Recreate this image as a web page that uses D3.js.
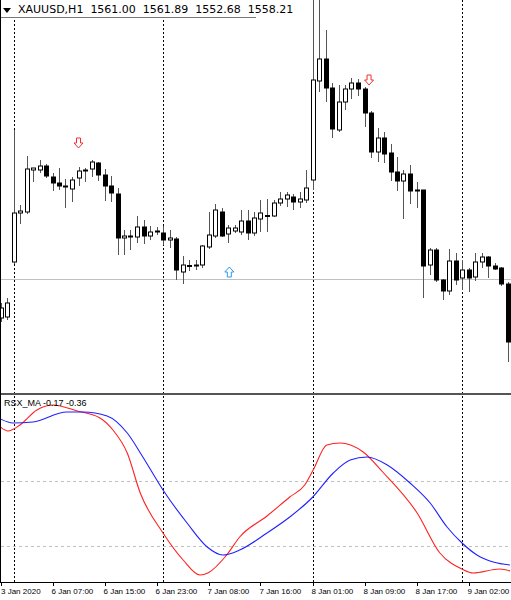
<!DOCTYPE html>
<html><head><meta charset="utf-8">
<script src="https://cdn.jsdelivr.net/npm/d3@7"></script>
<style>body{margin:0;background:#fff}svg{display:block}</style>
</head><body><svg id="c" width="511" height="600"></svg>
<script>
const open=[1546.4,1546.6,1557.6,1567.4,1567.6,1576.0,1576.0,1576.8,1574.6,1573.4,1572.8,1572.2,1574.4,1575.8,1576.2,1577.4,1575.0,1572.8,1571.2,1562.4,1562.6,1562.6,1564.6,1562.8,1563.6,1563.4,1562.0,1562.2,1555.6,1556.8,1556.8,1557.0,1560.6,1562.8,1567.6,1563.2,1563.8,1563.6,1565.8,1563.4,1566.2,1566.8,1566.8,1569.4,1570.2,1570.6,1569.6,1570.0,1574.0,1593.8,1598.2,1592.4,1584.0,1589.6,1592.2,1593.4,1592.2,1587.4,1579.6,1582.4,1579.4,1575.6,1573.8,1575.2,1572.0,1572.0,1557.0,1560.0,1554.0,1551.8,1557.8,1554.4,1556.0,1554.6,1557.6,1558.6,1556.8,1556.4,1553.2];
const high=[1549.4,1550.4,1584.0,1569.0,1578.8,1576.4,1578.0,1577.2,1575.4,1576.4,1574.2,1574.6,1576.6,1576.4,1578.0,1577.6,1576.2,1574.8,1572.4,1564.0,1564.0,1566.8,1566.0,1564.8,1564.6,1564.8,1564.0,1562.6,1558.8,1558.0,1558.0,1561.0,1567.6,1569.2,1568.4,1565.0,1565.0,1568.0,1568.0,1567.6,1570.0,1570.2,1570.0,1571.6,1571.6,1571.2,1571.6,1576.0,1614.0,1612.0,1604.0,1593.4,1593.0,1593.0,1594.4,1594.2,1592.6,1587.8,1584.4,1583.6,1581.2,1578.6,1576.0,1577.0,1573.6,1572.0,1560.4,1560.4,1554.2,1560.2,1559.4,1558.0,1556.4,1559.4,1559.4,1558.8,1557.4,1556.6,1553.6];
const low=[1545.6,1546.0,1557.2,1565.2,1567.2,1573.6,1575.4,1574.4,1571.8,1572.0,1568.4,1569.6,1572.8,1573.6,1574.6,1573.8,1569.8,1569.6,1559.0,1559.0,1560.0,1561.4,1561.2,1562.0,1563.0,1561.0,1560.4,1554.0,1553.2,1555.8,1556.0,1556.4,1560.2,1562.4,1562.6,1561.4,1563.4,1563.0,1562.0,1562.8,1563.6,1563.6,1566.6,1568.8,1568.6,1568.0,1568.4,1569.4,1572.0,1591.6,1589.6,1582.4,1583.6,1588.0,1590.2,1590.8,1584.6,1578.4,1577.6,1577.4,1573.8,1571.8,1566.2,1569.2,1568.4,1550.4,1555.0,1553.6,1550.0,1551.0,1553.0,1552.0,1551.6,1553.8,1556.4,1554.4,1556.0,1552.8,1537.6];
const close=[1548.4,1549.4,1567.4,1567.8,1576.2,1576.4,1576.8,1574.8,1573.4,1572.8,1572.6,1574.0,1575.8,1576.0,1577.6,1575.0,1572.8,1571.4,1562.4,1562.8,1562.8,1564.6,1562.8,1563.6,1563.8,1562.0,1562.4,1556.0,1557.0,1556.9,1557.0,1560.8,1563.0,1568.0,1562.8,1564.4,1564.4,1565.8,1563.4,1566.4,1567.4,1566.9,1569.4,1570.2,1571.0,1569.6,1570.2,1572.4,1594.0,1598.2,1592.4,1584.2,1589.6,1592.2,1593.4,1592.2,1587.4,1579.6,1582.4,1579.2,1575.6,1573.8,1575.2,1571.8,1571.9,1556.8,1560.0,1554.0,1551.8,1557.8,1554.0,1556.0,1554.4,1557.6,1558.6,1556.8,1556.2,1553.2,1541.6];
const daySeparators=[2,25,48,71];
const bidLine=1554.2;
const arrowsDown=[[12,1581.4],[56.7,1594.0]];
const arrowsUp=[[35.2,1555.6]];
const blueX=[0,1.92,5,10.2,12.7,16.4,19.5,21.9,25,28.7,31.8,34.2,36.8,41,44.5,47.9,51.2,53.8,56.4,59.5,63,66.1,68.7,71,73.3,75.8,78.4];
const blueV=[0.945,0.905,0.915,1.015,1.015,0.975,0.805,0.565,0.235,-0.095,-0.335,-0.415,-0.365,-0.195,-0.035,0.155,0.405,0.535,0.565,0.485,0.305,0.105,-0.135,-0.295,-0.415,-0.485,-0.515];
const redX=[0,1.15,3,5.6,8.1,11.8,15.3,17.3,19.5,21.5,25,28.1,30.7,31.9,34.8,36.8,41,44.5,46.8,48.1,50.2,52.2,55.8,58.8,64.1,67.6,71,72.7,76.8,78.4];
const redV=[0.865,0.825,0.885,1.035,1.085,1.025,0.955,0.835,0.605,0.205,-0.195,-0.465,-0.615,-0.595,-0.415,-0.235,-0.025,0.165,0.285,0.435,0.685,0.705,0.615,0.415,0.005,-0.395,-0.555,-0.595,-0.555,-0.575];
const levels=[0.325,-0.325];
const tickIdx=[0,8,16,24,32,40,48,56,64,72];
const tickLabels=["3 Jan 2020","6 Jan 07:00","6 Jan 15:00","6 Jan 23:00","7 Jan 08:00","7 Jan 16:00","8 Jan 01:00","8 Jan 09:00","8 Jan 17:00","9 Jan 02:00"];
const header=["XAUUSD,H1","1561.00","1561.89","1552.68","1558.21"];
const indName="RSX_MA -0.17 -0.36";

const svg=d3.select("#c");
const FONT="'DejaVu Sans',sans-serif";
const AFONT="'Liberation Sans',Arial,sans-serif";
const x=d3.scaleLinear().domain([0,78]).range([0.5,507.5]);
const y=d3.scaleLinear().domain([1610,1531.4]).range([0,393]);
const yi=d3.scaleLinear().domain([0,1]).range([513.5,413.5]);
svg.append("clipPath").attr("id","mc").append("rect").attr("x",0).attr("y",0).attr("width",511).attr("height",393);
svg.append("clipPath").attr("id","ic").append("rect").attr("x",1).attr("y",396).attr("width",510).attr("height",186);

svg.append("g").selectAll("line").data(levels).join("line")
 .attr("x1",1).attr("x2",511).attr("y1",d=>Math.round(yi(d))+.5).attr("y2",d=>Math.round(yi(d))+.5)
 .attr("stroke","#c0c0c0").attr("stroke-dasharray","3,3");
svg.append("line").attr("x1",0).attr("x2",511).attr("y1",Math.round(y(bidLine))+.5).attr("y2",Math.round(y(bidLine))+.5).attr("stroke","#c0c0c0");
svg.append("g").selectAll("line").data(daySeparators).join("line")
 .attr("x1",d=>Math.round(x(d))+.5).attr("x2",d=>Math.round(x(d))+.5).attr("y1",0).attr("y2",582)
 .attr("stroke","#000").attr("stroke-dasharray","2,2");

const idx=d3.range(open.length);
const cg=svg.append("g").attr("clip-path","url(#mc)");
cg.selectAll("line.w").data(idx).join("line").attr("class","w")
 .attr("x1",i=>Math.round(x(i))+.5).attr("x2",i=>Math.round(x(i))+.5)
 .attr("y1",i=>y(high[i])).attr("y2",i=>y(low[i])).attr("stroke","#555");
cg.selectAll("rect").data(idx).join("rect")
 .attr("x",i=>Math.round(x(i))-1.5).attr("width",4)
 .attr("y",i=>y(Math.max(open[i],close[i])))
 .attr("height",i=>Math.max(1,Math.abs(y(open[i])-y(close[i]))))
 .attr("fill",i=>close[i]>=open[i]?"#fff":"#000").attr("stroke","#000");

function arrowPath(cx,cy,dir){
 const p=[[-2,-5],[2,-5],[2,0],[4.5,0],[0,5],[-4.5,0],[-2,0]];
 return "M"+p.map(([a,b])=>[cx+a,cy+b*dir]).join("L")+"Z";
}
svg.append("g").selectAll("path").data(arrowsDown).join("path")
 .attr("d",d=>arrowPath(x(d[0]),y(d[1]),1)).attr("fill","#fff").attr("stroke","#f03030");
svg.append("g").selectAll("path").data(arrowsUp).join("path")
 .attr("d",d=>arrowPath(x(d[0]),y(d[1]),-1)).attr("fill","#fff").attr("stroke","#2a9af0");

svg.append("rect").attr("x",0).attr("y",0).attr("width",256).attr("height",17).attr("fill","#fff");
svg.append("line").attr("x1",0).attr("x2",256).attr("y1",17.5).attr("y2",17.5).attr("stroke","#777");
svg.append("path").attr("d","M3,8L11,8L7,13Z").attr("fill","#000");
svg.append("text").attr("x",18).attr("y",13).attr("font-family",FONT).attr("font-size",11).attr("fill","#000")
 .attr("xml:space","preserve").style("white-space","pre")
 .text(header[0]+"  "+header.slice(1).join("  "));

svg.append("rect").attr("x",0).attr("y",393).attr("width",511).attr("height",2).attr("fill","#555");
svg.append("line").attr("x1",.5).attr("x2",.5).attr("y1",0).attr("y2",582).attr("stroke","#000");
svg.append("line").attr("x1",0).attr("x2",511).attr("y1",582.5).attr("y2",582.5).attr("stroke","#000");

const ig=svg.append("g").attr("clip-path","url(#ic)");
const ln=d3.line().curve(d3.curveMonotoneX);
ig.append("path").attr("d",ln(redX.map((d,i)=>[x(d),yi(redV[i])]))).attr("fill","none").attr("stroke","#ff2020").attr("stroke-width",1.1);
ig.append("path").attr("d",ln(blueX.map((d,i)=>[x(d),yi(blueV[i])]))).attr("fill","none").attr("stroke","#2020ff").attr("stroke-width",1.1);
svg.append("text").attr("x",4).attr("y",406).attr("font-family",AFONT).attr("font-size",9).attr("fill","#000").text(indName);

svg.append("rect").attr("x",0).attr("y",583).attr("width",511).attr("height",17).attr("fill","#fff");
const ax=svg.append("g");
ax.selectAll("line").data(tickIdx).join("line").attr("x1",d=>Math.round(x(d))+.5).attr("x2",d=>Math.round(x(d))+.5)
 .attr("y1",582).attr("y2",586).attr("stroke","#000");
ax.selectAll("text").data(tickIdx).join("text").attr("x",d=>Math.max(1,x(d)-1)).attr("y",594)
 .attr("font-family",AFONT).attr("font-size",8).attr("fill","#000").text((d,i)=>tickLabels[i]);
</script></body></html>
